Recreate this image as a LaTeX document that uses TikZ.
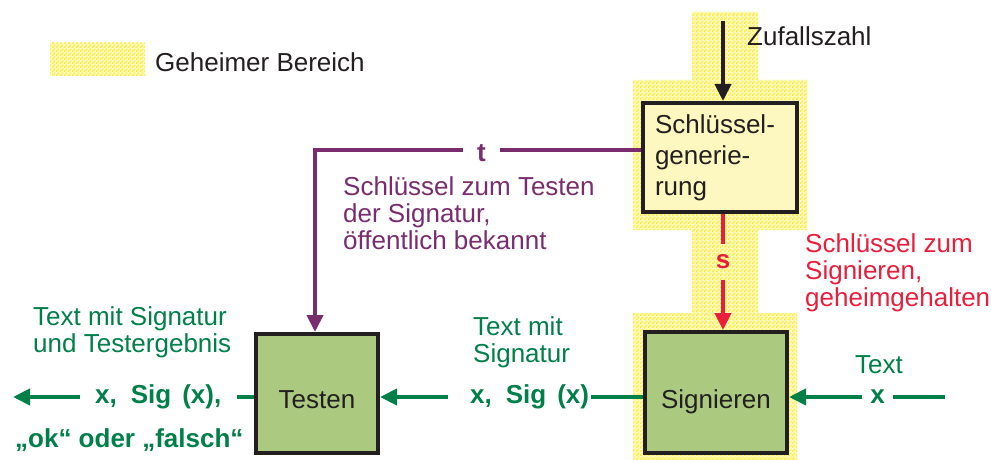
\documentclass[tikz,border=0pt]{standalone}
\usepackage{fontspec}
\setmainfont{Liberation Sans}
\usetikzlibrary{arrows.meta,patterns}
\definecolor{ink}{RGB}{35,31,32}
\definecolor{gr}{RGB}{0,128,72}
\definecolor{pu}{RGB}{122,45,110}
\definecolor{rd}{RGB}{232,30,60}
\definecolor{boxgreen}{RGB}{171,202,128}
\definecolor{genfill}{RGB}{252,248,192}
\definecolor{ylight}{RGB}{255,250,185}
\definecolor{ydark}{RGB}{255,236,70}
\pgfdeclarepatternformonly{chk}{\pgfqpoint{0pt}{0pt}}{\pgfqpoint{4pt}{4pt}}{\pgfqpoint{4pt}{4pt}}{%
  \pgfpathrectangle{\pgfqpoint{0pt}{0pt}}{\pgfqpoint{2pt}{2pt}}%
  \pgfpathrectangle{\pgfqpoint{2pt}{2pt}}{\pgfqpoint{2pt}{2pt}}%
  \pgfusepath{fill}}
\begin{document}
\begin{tikzpicture}[x=1pt,y=-1pt,
  secret/.style={fill=ylight, postaction={pattern=chk, pattern color=ydark}},
  box/.style={draw=ink, line width=4pt, inner sep=0pt, text=ink, font=\fontsize{26}{31}\selectfont},
  txt/.style={inner sep=0pt, align=left, font=\fontsize{26}{27}\selectfont},
  glab/.style={inner sep=0pt, text=gr, font=\fontsize{26}{27}\selectfont\bfseries, text height=19pt, text depth=5.5pt},
  ln/.style={line width=4pt},
  arr/.style={line width=4pt, -{Triangle[length=17pt,width=16pt]}}
]
\useasboundingbox (0,0) rectangle (991,460);
% secret area
\path[secret] (692,12) -- (758,12) -- (758,80) -- (807,80) -- (807,230) -- (758,230)
  -- (758,313) -- (797,313) -- (797,460) -- (633,460) -- (633,313) -- (692,313)
  -- (692,230) -- (633,230) -- (633,80) -- (692,80) -- cycle;
% legend
\node[secret, minimum width=95pt, minimum height=33pt, inner sep=0pt] (legbox) at (97.5,59.5) {};
\node[txt, text=ink, anchor=base west] (leg) at (155,72) {Geheimer Bereich};
% boxes
\node[box, fill=genfill, minimum width=154pt, minimum height=109pt, text width=130pt, inner xsep=12pt, align=left] (gen) at (720,157.5) {Schlüssel-\\generie-\\rung};
\node[box, fill=boxgreen, minimum width=142pt, minimum height=121pt, text height=31pt, text depth=0pt] (sig) at (716,392.5) {Signieren};
\node[box, fill=boxgreen, minimum width=122pt, minimum height=119pt, text height=29pt, text depth=0pt] (test) at (317,393.5) {Testen};
% random number
\node[txt, text=ink, anchor=base west] (zufall) at (747,46) {Zufallszahl};
\coordinate (zstart) at (723,21);
\draw[arr, ink] (zstart) -- (zstart |- gen.north);
% secret key s
\node[inner sep=0pt, minimum height=36pt, text=rd, font=\fontsize{26}{27}\selectfont\bfseries] (slab) at (723,262) {s};
\draw[ln, rd] (slab.north |- gen.south) -- (slab.north);
\draw[arr, rd] (slab.south) -- (slab.south |- sig.north);
\node[txt, text=rd, anchor=base west] (stxt) at (805,306) {Schlüssel zum\\Signieren,\\geheimgehalten};
% public key t
\coordinate (tc) at (315,150);
\node[inner sep=0pt, minimum width=37pt, text=pu, font=\fontsize{26}{27}\selectfont\bfseries] (tlab) at (481.5,153) {t};
\draw[ln, pu] (gen.west |- tc) -- (tlab.east |- tc);
\draw[arr, pu] (tlab.west |- tc) -- (tc) -- (tc |- test.north);
\node[txt, text=pu, anchor=base west] (ttxt) at (343,249) {Schlüssel zum Testen\\der Signatur,\\öffentlich bekannt};
% input text x
\node[glab, minimum width=31pt] (xin) at (877.5,397) {x};
\coordinate (in) at (945,397);
\draw[ln, gr] (in) -- (xin.east);
\draw[arr, gr] (xin.west) -- (sig.east |- xin.west);
\node[txt, text=gr, anchor=base west] (intxt) at (855,373) {Text};
% signed text
\node[glab, anchor=west] (mid) at (470,397) {x,\hspace{14pt}Sig\hspace{11pt}(x)};
\draw[ln, gr] (sig.west |- mid.east) -- ([xshift=2pt]mid.east);
\draw[arr, gr, shorten <=22pt] (mid.west) -- (test.east |- mid.west);
\node[txt, text=gr, anchor=base west] (midtxt) at (473,362) {Text mit\\Signatur};
% output
\node[glab, anchor=west] (l1) at (95,397) {x,\hspace{14pt}Sig\hspace{11pt}(x),};
\coordinate (out) at (13,397);
\draw[ln, gr, shorten >=15pt] (test.west |- l1.east) -- (l1.east);
\draw[arr, gr, shorten <=15pt] (l1.west) -- (out);
\node[txt, text=gr, font=\fontsize{26}{27}\selectfont\bfseries, anchor=base west] (l2) at (15,447) {„ok“ oder „falsch“};
\node[txt, text=gr, anchor=base west] (outtxt) at (33,352) {Text mit Signatur\\und Testergebnis};
\end{tikzpicture}
\end{document}
